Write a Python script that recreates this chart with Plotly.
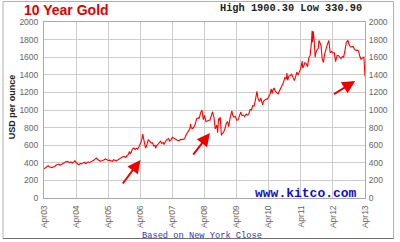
import plotly.graph_objects as go

dates = [
 "2003-04-15","2003-05-01","2003-05-15","2003-06-01","2003-06-15","2003-07-01","2003-07-15","2003-08-01","2003-08-15",
 "2003-09-01","2003-09-15","2003-10-01","2003-10-15","2003-11-01","2003-11-15","2003-12-01","2003-12-15",
 "2004-01-01","2004-01-15","2004-02-01","2004-02-15","2004-03-01","2004-03-15","2004-04-01","2004-04-15",
 "2004-05-01","2004-05-15","2004-06-01","2004-06-15","2004-07-01","2004-07-15","2004-08-01","2004-08-15",
 "2004-09-01","2004-09-15","2004-10-01","2004-10-15","2004-11-01","2004-11-15","2004-12-01","2004-12-15",
 "2005-01-01","2005-01-15","2005-02-01","2005-02-15","2005-03-01","2005-03-15","2005-04-01","2005-04-15",
 "2005-05-01","2005-05-15","2005-06-01","2005-06-15","2005-07-01","2005-07-15","2005-08-01","2005-08-15",
 "2005-09-01","2005-09-15","2005-10-01","2005-10-15","2005-11-01","2005-11-15","2005-12-01","2005-12-12","2005-12-20",
 "2006-01-01","2006-01-15","2006-02-01","2006-02-15","2006-03-01","2006-03-15","2006-04-01","2006-04-15",
 "2006-05-01","2006-05-12","2006-05-22","2006-06-01","2006-06-14","2006-06-25","2006-07-05","2006-07-15",
 "2006-08-01","2006-08-15","2006-09-01","2006-09-15","2006-10-01","2006-10-05","2006-10-15","2006-11-01","2006-11-15",
 "2006-12-01","2006-12-15",
 "2007-01-01","2007-01-10","2007-01-20","2007-02-01","2007-02-15","2007-03-01","2007-03-15","2007-04-01","2007-04-15",
 "2007-05-01","2007-05-15","2007-06-01","2007-06-15","2007-07-01","2007-07-15","2007-08-01","2007-08-15",
 "2007-09-01","2007-09-15","2007-10-01","2007-10-15","2007-11-01","2007-11-08","2007-11-15","2007-12-01","2007-12-15",
 "2008-01-01","2008-01-15","2008-02-01","2008-02-15","2008-03-01","2008-03-17","2008-04-01","2008-04-15",
 "2008-05-01","2008-05-15","2008-06-01","2008-06-15","2008-07-01","2008-07-15","2008-08-01","2008-08-15",
 "2008-09-01","2008-09-11","2008-09-22","2008-10-01","2008-10-10","2008-10-24","2008-11-01","2008-11-15",
 "2008-12-01","2008-12-15",
 "2009-01-01","2009-01-15","2009-02-01","2009-02-20","2009-03-01","2009-03-15","2009-04-01","2009-04-15",
 "2009-05-01","2009-05-15","2009-06-01","2009-06-15","2009-07-01","2009-07-15","2009-08-01","2009-08-15",
 "2009-09-01","2009-09-15","2009-10-01","2009-10-15","2009-11-01","2009-11-15","2009-12-02","2009-12-15",
 "2010-01-01","2010-01-15","2010-02-05","2010-02-15","2010-03-01","2010-03-15","2010-04-01","2010-04-15",
 "2010-05-01","2010-05-13","2010-05-25","2010-06-01","2010-06-15","2010-07-01","2010-07-15","2010-08-01","2010-08-15",
 "2010-09-01","2010-09-15","2010-10-01","2010-10-15","2010-11-01","2010-11-08","2010-11-17","2010-12-01","2010-12-15",
 "2011-01-01","2011-01-15","2011-02-01","2011-02-15","2011-03-01","2011-03-15","2011-04-01","2011-04-15",
 "2011-05-01","2011-05-06","2011-05-15","2011-06-01","2011-06-15","2011-07-01","2011-07-15","2011-08-01","2011-08-15",
 "2011-08-22","2011-08-26","2011-09-05","2011-09-15","2011-09-26","2011-10-01","2011-10-15","2011-11-01","2011-11-08",
 "2011-11-15","2011-12-01","2011-12-15","2011-12-29",
 "2012-01-10","2012-01-25","2012-02-10","2012-02-28","2012-03-05","2012-03-15","2012-04-01","2012-04-15",
 "2012-05-01","2012-05-15","2012-06-01","2012-06-15","2012-07-01","2012-07-15","2012-08-01","2012-08-15",
 "2012-09-01","2012-09-15","2012-10-04","2012-10-15","2012-11-01","2012-11-15","2012-12-01","2012-12-15",
 "2013-01-01","2013-01-15","2013-02-01","2013-02-15","2013-03-01","2013-03-15","2013-04-01","2013-04-05",
 "2013-04-12","2013-04-15",
]
prices = [
 331,340,352,366,354,346,344,354,358,
 375,380,386,372,384,396,402,410,
 416,408,402,410,398,406,424,400,
 388,378,392,388,396,406,392,402,
 408,404,418,420,428,440,454,438,
 428,420,424,426,434,444,428,426,
 430,420,416,436,424,422,432,442,
 444,460,472,470,462,482,496,530,502,
 518,556,568,550,566,554,586,610,
 654,725,662,642,568,590,624,662,
 644,626,628,590,598,565,590,608,626,
 646,620,
 632,608,632,650,666,676,648,664,690,
 680,666,664,654,652,666,664,666,
 672,712,742,764,790,840,796,790,806,
 840,900,910,908,968,1000,890,940,
 868,876,884,884,930,980,912,786,
 830,742,905,884,920,712,730,742,
 780,838,
 870,810,916,990,942,920,924,884,
 888,926,976,936,942,926,954,942,
 956,1006,1000,1050,1046,1116,1212,1128,
 1096,1136,1058,1100,1118,1124,1124,1154,
 1180,1240,1190,1224,1250,1212,1200,1184,1216,
 1248,1270,1316,1370,1352,1420,1338,1386,1390,
 1406,1368,1334,1374,1430,1396,1432,1472,
 1556,1480,1490,1536,1530,1492,1590,1624,1780,
 1900,1770,1895,1780,1600,1640,1680,1704,1790,
 1770,1736,1580,1540,
 1630,1690,1740,1790,1710,1650,1666,1650,
 1650,1550,1620,1620,1600,1584,1608,1600,
 1690,1770,1792,1744,1716,1722,1722,1690,
 1676,1680,1670,1610,1576,1590,1600,1560,
 1480,1380,
]

tick_dates = ["2003-04-15","2004-04-15","2005-04-15","2006-04-15","2007-04-15","2008-04-15",
              "2009-04-15","2010-04-15","2011-04-15","2012-04-15","2013-04-15"]
tick_labels = ["Apr03","Apr04","Apr05","Apr06","Apr07","Apr08","Apr09","Apr10","Apr11","Apr12","Apr13"]
y_ticks = [0,200,400,600,800,1000,1200,1400,1600,1800,2000]

title_text = "10 Year Gold"
high_low_text = "High 1900.30 Low 330.90"
y_title = "USD per ounce"
source_text = "www.kitco.com"
note_text = "Based on New York Close"

# arrows: (tip date, tip value, tail date, tail value)
arrows = [
    ("2006-04-17", 432, "2005-09-15", 148),
    ("2008-06-15", 739, "2007-11-25", 477),
    ("2012-12-25", 1330, "2012-04-10", 1170),
]

fig = go.Figure()
fig.add_trace(go.Scatter(x=dates, y=prices, mode="lines",
                         line=dict(color="#ff0000", width=1.1), hoverinfo="skip", showlegend=False))
fig.add_trace(go.Scatter(x=dates, y=prices, mode="lines", yaxis="y2",
                         line=dict(color="rgba(0,0,0,0)", width=0), hoverinfo="skip", showlegend=False))

tickfont = dict(family="Liberation Sans, Arial, sans-serif", size=8.5, color="#666666")
fig.update_layout(
    width=400, height=242,
    margin=dict(l=44, r=31, t=22, b=44),
    paper_bgcolor="white", plot_bgcolor="white",
    xaxis=dict(range=["2003-04-15", "2013-04-15"], type="date",
               tickvals=tick_dates, ticktext=tick_labels, tickangle=-90,
               tickfont=tickfont, showgrid=True, gridcolor="#cccccc", gridwidth=1,
               showline=True, linecolor="#aaaaaa", mirror=True, zeroline=False,
               ticks="outside", ticklen=3, tickcolor="rgba(0,0,0,0)"),
    yaxis=dict(range=[0, 2000], tickvals=y_ticks, tickfont=tickfont,
               showgrid=True, gridcolor="#cccccc", gridwidth=1,
               showline=True, linecolor="#aaaaaa", mirror=True, zeroline=False,
               ticks="outside", ticklen=3, tickcolor="rgba(0,0,0,0)"),
    yaxis2=dict(range=[0, 2000], tickvals=y_ticks, tickfont=tickfont, overlaying="y", side="right",
                showgrid=False, zeroline=False, showline=False,
                ticks="outside", ticklen=1, tickcolor="rgba(0,0,0,0)"),
)

annotations = [
    dict(text="<b>" + title_text + "</b>", x=-0.068, y=1.068, xref="paper", yref="paper",
         xanchor="left", yanchor="middle", showarrow=False,
         font=dict(family="Liberation Sans, Arial, sans-serif", size=14, color="#e00000")),
    dict(text="<b>" + high_low_text + "</b>", x=0.997, y=1.08, xref="paper", yref="paper",
         xanchor="right", yanchor="middle", showarrow=False,
         font=dict(family="Liberation Mono, DejaVu Sans Mono, monospace", size=10.3, color="#222222")),
    dict(text="<b>" + y_title + "</b>", x=-0.099, y=0.517, xref="paper", yref="paper",
         xanchor="center", yanchor="middle", showarrow=False, textangle=-90,
         font=dict(family="Liberation Sans, Arial, sans-serif", size=9, color="#222222")),
    dict(text="<b>" + source_text + "</b>", x=0.9825, y=0.024, xref="paper", yref="paper",
         xanchor="right", yanchor="middle", showarrow=False,
         font=dict(family="Liberation Mono, DejaVu Sans Mono, monospace", size=13, color="#1010c0")),
    dict(text=note_text, x=0.298, y=-0.216, xref="paper", yref="paper",
         xanchor="left", yanchor="middle", showarrow=False,
         font=dict(family="Liberation Mono, DejaVu Sans Mono, monospace", size=8.7, color="#3333bb")),
]
for tx, ty, sx, sy in arrows:
    annotations.append(dict(x=tx, y=ty, ax=sx, ay=sy, xref="x", yref="y", axref="x", ayref="y",
                            text="", showarrow=True, arrowhead=2, arrowsize=1.3, arrowwidth=2,
                            arrowcolor="#ee0000"))
fig.update_layout(annotations=annotations)

# outer frame
fig.add_shape(type="rect", xref="paper", yref="paper", x0=-0.1277, x1=1.089, y0=-0.2301, y1=1.1165,
              line=dict(color="#b0b0b0", width=1), layer="below")
fig.add_shape(type="line", xref="paper", yref="paper", x0=-0.1277, x1=1.089, y0=-0.2301, y1=-0.2301,
              line=dict(color="#707070", width=1.2))

fig.write_html("out.html")
